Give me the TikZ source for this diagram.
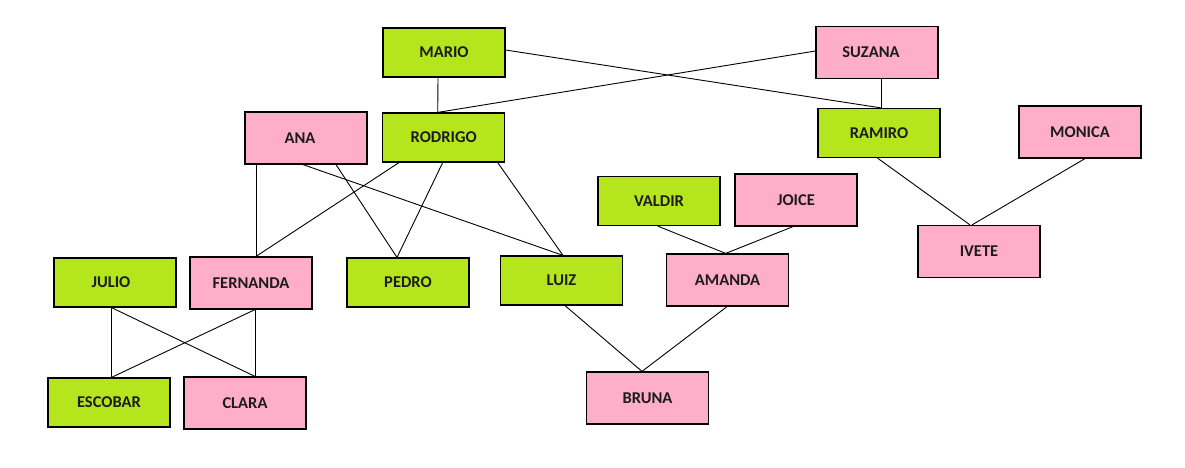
\documentclass[tikz,border=0pt]{standalone}
\usepackage{fontspec}
\setmainfont{Carlito}
\definecolor{lime}{HTML}{B5E61D}
\definecolor{rose}{HTML}{FFAEC9}
\definecolor{ink}{HTML}{1C1C1C}
\begin{document}
\begin{tikzpicture}[x=1pt,y=-1pt,
  person/.style={draw=black,line width=1.2pt,rectangle,minimum width=122pt,inner sep=0pt,
     font=\fontsize{16.5}{19}\selectfont\bfseries,text=ink},
  man/.style={person,fill=lime,minimum height=49pt},
  woman/.style={person,fill=rose,minimum height=52pt},
  link/.style={draw=black,line width=0.9pt}]
\useasboundingbox[fill=white] (0,0) rectangle (1185,468);
\node[man]   (mario)    at (444,52.5)  {MARIO};
\node[woman] (suzana)   at (877,52.3)  {\hspace*{-12pt}SUZANA};
\node[man]   (rodrigo)  at (443.7,137.5) {RODRIGO};
\node[man]   (ramiro)   at (879,133)   {RAMIRO};
\node[woman] (ana)      at (306,138)   {\hspace*{-12pt}ANA};
\node[woman] (monica)   at (1080,132)  {MONICA};
\node[man]   (valdir)   at (659,201)   {VALDIR};
\node[woman] (joice)    at (796,200)   {JOICE};
\node[woman] (ivete)    at (979,251.5) {IVETE};
\node[man]   (julio)    at (115,282.5) {\hspace*{-8pt}JULIO};
\node[woman] (fernanda) at (251,283)   {FERNANDA};
\node[man]   (pedro)    at (408,282.5) {PEDRO};
\node[man]   (luiz)     at (561.5,280.5) {LUIZ};
\node[woman] (amanda)   at (727.5,280) {AMANDA};
\node[man]   (escobar)  at (109,402.5) {ESCOBAR};
\node[woman] (clara)    at (245,403)   {CLARA};
\node[woman] (bruna)    at (647.5,398) {BRUNA};

\draw[link] ([xshift=-6]mario.south) -- ([xshift=-6]rodrigo.north);
\draw[link] ([yshift=2.5]mario.east) -- ([xshift=2]ramiro.north);
\draw[link] ([yshift=1.3]suzana.west) -- ([xshift=-6]rodrigo.north);
\draw[link] ([xshift=4]suzana.south) -- ([xshift=2]ramiro.north);
\draw[link] ([xshift=-50]ana.south) -- ([xshift=5]fernanda.north);
\draw[link] ([xshift=30]ana.south) -- ([xshift=-11]pedro.north);
\draw[link] ([xshift=-3]ana.south) -- ([xshift=1.5]luiz.north);
\draw[link] ([xshift=-44.7]rodrigo.south) -- ([xshift=5]fernanda.north);
\draw[link] ([xshift=-1]rodrigo.south) -- ([xshift=-11]pedro.north);
\draw[link] ([xshift=54]rodrigo.south) -- ([xshift=1.5]luiz.north);
\draw[link] ([xshift=-3.5]julio.south) -- ([xshift=2.5]escobar.north);
\draw[link] ([xshift=-3.5]julio.south) -- ([xshift=10]clara.north);
\draw[link] ([xshift=4]fernanda.south) -- ([xshift=2.5]escobar.north);
\draw[link] ([xshift=4]fernanda.south) -- ([xshift=10]clara.north);
\draw[link] ([xshift=3.5]luiz.south) -- ([xshift=-5.5]bruna.north);
\draw[link] ([xshift=-0.5]amanda.south) -- ([xshift=-5.5]bruna.north);
\draw[link] ([xshift=-1.3]valdir.south) -- ([xshift=-1.8]amanda.north);
\draw[link] ([xshift=-3]joice.south) -- ([xshift=-1.8]amanda.north);
\draw[link] ([xshift=-1.5]ramiro.south) -- ([xshift=-9]ivete.north);
\draw[link] ([xshift=5]monica.south) -- ([xshift=-7]ivete.north);
\end{tikzpicture}
\end{document}
